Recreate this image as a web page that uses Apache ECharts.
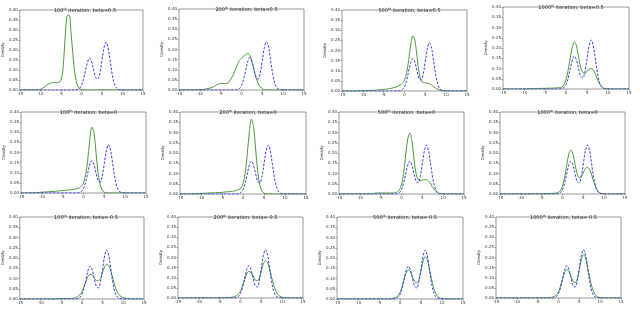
<!DOCTYPE html>
<html>
<head>
<meta charset="utf-8">
<script src="https://cdn.jsdelivr.net/npm/echarts@6/dist/echarts.min.js"></script>
<style>html,body{margin:0;padding:0;background:#fff}#c{width:640px;height:310px}</style>
</head>
<body>
<div id="c"></div>
<script>
// x grid shared by all curves
const XS = [-15,-14,-13,-12,-11,-10,-9,-8,-7,
  -6.5,-6,-5.5,-5,-4.5,-4,-3.5,-3,-2.5,-2,-1.5,-1,-0.5,
  0,0.5,1,1.5,2,2.5,3,3.5,4,4.5,5,5.5,
  6,6.5,7,7.5,8,8.5,9,9.5,10,
  11,12,13,14,15];
const X_TICKS = [-15,-10,-5,0,5,10,15];
const Y_TICKS = [0,0.05,0.10,0.15,0.20,0.25,0.30,0.35,0.40];
const ITERS = ['100','200','500','1000'];
const BETAS = ['0.5','0','-0.5'];

// target density (blue dashed), same in every panel
const TARGET = [0,0,0,0,0,0,0,0,0,
  0,0,0,0,0,0,0,0,0,0,0,0.002,0.007,
  0.022,0.052,0.097,0.141,0.160,0.141,0.099,0.062,0.054,0.085,0.147,0.211,
  0.239,0.211,0.145,0.078,0.032,0.011,0.003,0.001,0,
  0,0,0,0,0];

// learned densities (green)
const G_100_B05 = [0,0,0,0,0,0.003,0.015,0.03,0.037,
  0.037,0.037,0.039,0.048,0.10,0.25,0.37,0.375,0.28,0.16,0.07,0.025,0.007,
  0.002,0,0,0,0,0,0,0,0,0,0,0,
  0,0,0,0,0,0,0,0,0,
  0,0,0,0,0];
const G_200_B05 = [0,0,0,0,0,0.001,0.003,0.007,0.013,
  0.018,0.024,0.03,0.033,0.033,0.032,0.033,0.04,0.055,0.075,0.1,0.125,0.145,
  0.157,0.167,0.176,0.18,0.17,0.14,0.1,0.06,0.033,0.015,0.006,0.002,
  0,0,0,0,0,0,0,0,0,
  0,0,0,0,0];
const G_500_B05 = [0,0,0,0,0.001,0.002,0.002,0.003,0.004,
  0.005,0.006,0.007,0.008,0.009,0.01,0.012,0.014,0.017,0.02,0.025,0.03,0.038,
  0.055,0.09,0.15,0.23,0.272,0.25,0.17,0.09,0.05,0.042,0.04,0.038,
  0.035,0.03,0.022,0.014,0.008,0.004,0.002,0.001,0,
  0,0,0,0,0];
const G_1000_B05 = [0,0,0,0,0,0,0.001,0.002,0.002,
  0.003,0.003,0.003,0.003,0.004,0.004,0.004,0.005,0.005,0.006,0.007,0.01,0.02,
  0.045,0.09,0.15,0.205,0.23,0.21,0.155,0.105,0.08,0.077,0.085,0.097,
  0.1,0.093,0.073,0.047,0.025,0.01,0.004,0.001,0,
  0,0,0,0,0];
const G_100_B0 = [0,0,0,0.001,0.002,0.004,0.005,0.007,0.008,
  0.009,0.01,0.011,0.012,0.013,0.014,0.015,0.016,0.017,0.019,0.022,0.026,0.033,
  0.05,0.09,0.16,0.26,0.325,0.3,0.2,0.1,0.04,0.014,0.004,0.001,
  0,0,0,0,0,0,0,0,0,
  0,0,0,0,0];
const G_200_B0 = [0,0,0,0,0.001,0.003,0.004,0.005,0.006,
  0.006,0.007,0.007,0.008,0.009,0.01,0.011,0.012,0.013,0.015,0.018,0.022,0.03,
  0.05,0.1,0.19,0.3,0.365,0.33,0.22,0.11,0.045,0.015,0.004,0.001,
  0,0,0,0,0,0,0,0,0,
  0,0,0,0,0];
const G_500_B0 = [0,0,0,0,0,0,0,0,0.002,
  0.004,0.005,0.005,0.005,0.005,0.005,0.005,0.005,0.005,0.005,0.006,0.01,0.02,
  0.045,0.1,0.19,0.27,0.297,0.26,0.17,0.1,0.07,0.065,0.068,0.07,
  0.07,0.062,0.048,0.032,0.018,0.008,0.003,0.001,0,
  0,0,0,0,0];
const G_1000_B0 = [0,0,0,0,0,0,0,0,0.001,
  0.001,0.001,0.001,0.002,0.002,0.002,0.002,0.003,0.003,0.004,0.005,0.008,0.016,
  0.038,0.08,0.14,0.195,0.215,0.195,0.145,0.1,0.08,0.085,0.105,0.125,
  0.13,0.12,0.093,0.06,0.032,0.014,0.005,0.002,0,
  0,0,0,0,0];
const G_100_BM05 = [0,0,0,0,0,0,0,0,0.001,
  0.001,0.001,0.001,0.002,0.002,0.002,0.003,0.003,0.003,0.004,0.007,0.012,0.02,
  0.035,0.06,0.087,0.11,0.12,0.117,0.103,0.091,0.09,0.1,0.13,0.158,
  0.17,0.163,0.135,0.098,0.063,0.036,0.02,0.011,0.006,
  0.002,0.001,0,0,0];
const G_200_BM05 = [0,0,0,0,0,0,0,0,0,
  0,0,0,0,0,0.001,0.001,0.002,0.003,0.004,0.006,0.011,0.02,
  0.035,0.062,0.093,0.12,0.132,0.127,0.11,0.09,0.085,0.098,0.135,0.17,
  0.184,0.174,0.14,0.1,0.063,0.034,0.017,0.008,0.004,
  0.001,0,0,0,0];
const G_500_BM05 = [0,0,0,0,0,0,0,0,0,
  0,0,0,0,0,0,0,0,0.001,0.002,0.004,0.008,0.016,
  0.032,0.062,0.098,0.128,0.142,0.133,0.108,0.085,0.078,0.094,0.138,0.185,
  0.207,0.192,0.148,0.098,0.056,0.027,0.012,0.005,0.002,
  0,0,0,0,0];
const G_1000_BM05 = [0,0,0,0,0,0,0,0,0,
  0,0,0,0,0,0,0,0,0.001,0.002,0.004,0.008,0.016,
  0.03,0.06,0.097,0.127,0.14,0.131,0.106,0.083,0.076,0.093,0.14,0.19,
  0.215,0.198,0.152,0.1,0.056,0.027,0.012,0.005,0.002,
  0,0,0,0,0];

const GREENS = [G_100_B05,G_200_B05,G_500_B05,G_1000_B05,
  G_100_B0,G_200_B0,G_500_B0,G_1000_B0,
  G_100_BM05,G_200_BM05,G_500_BM05,G_1000_BM05];

// panel plot-area boxes [left, top, width, height]
const BOXES = [
  [17,10,126,80],[179,9,125,81],[342,10,125,81],[503,7,126,82],
  [21,112,125,81],[180,112,126,82],[339,112,125,82],[500,112,125,82],
  [18,217,126,82],[178,217,125,81],[337,217,126,82],[496,217,125,81]
];

const chart = echarts.init(document.getElementById('c'), null, {renderer:'canvas'});
const grids=[], xAxes=[], yAxes=[], series=[], titles=[];
const FONT = 'DejaVu Sans';
const pairs = ys => XS.map((x,i)=>[x, ys[i]]);

for (let i=0;i<12;i++){
  const [l,t,w,h] = BOXES[i];
  const it = ITERS[i%4], b = BETAS[Math.floor(i/4)];
  grids.push({left:l, top:t, width:w, height:h, show:true, borderColor:'#555', borderWidth:0.6, backgroundColor:'#fff'});
  xAxes.push({type:'value', gridIndex:i, min:X_TICKS[0], max:X_TICKS[X_TICKS.length-1], interval:5,
    position:'bottom',
    axisLine:{show:false, onZero:false}, splitLine:{show:false},
    axisTick:{show:true, length:1.5, lineStyle:{color:'#555', width:0.5}},
    axisLabel:{fontSize:4, color:'#333', margin:2, fontFamily:FONT}});
  yAxes.push({type:'value', gridIndex:i, min:Y_TICKS[0], max:Y_TICKS[Y_TICKS.length-1], interval:0.05,
    position:'left',
    name:'Density', nameLocation:'middle', nameRotate:90, nameGap:13,
    nameTextStyle:{fontSize:4, color:'#333', fontFamily:FONT},
    axisLine:{show:false, onZero:false}, splitLine:{show:false},
    axisTick:{show:true, length:1.5, lineStyle:{color:'#555', width:0.5}},
    axisLabel:{fontSize:4, color:'#333', margin:2, fontFamily:FONT, formatter:v=>v.toFixed(2)}});
  titles.push({text: it+'{s|th} iteration, beta='+b, left:l+w/2, top:t-7, textAlign:'center',
    textStyle:{fontSize:5, fontWeight:'normal', color:'#222', fontFamily:FONT,
      rich:{s:{fontSize:3.2, color:'#222', fontFamily:FONT, verticalAlign:'top', padding:[0,0,2,0]}}}});
  series.push({type:'line', xAxisIndex:i, yAxisIndex:i, data:pairs(GREENS[i]), smooth:0.35, symbol:'none',
    lineStyle:{color:'#4c9a3c', width:1}, z:2});
  series.push({type:'line', xAxisIndex:i, yAxisIndex:i, data:pairs(TARGET), smooth:0.35, symbol:'none',
    lineStyle:{color:'#3a3af5', width:1, type:[2.5,1.5]}, z:3});
}

chart.setOption({animation:false, backgroundColor:'#fff', title:titles, grid:grids, xAxis:xAxes, yAxis:yAxes, series:series});
</script>
</body>
</html>
